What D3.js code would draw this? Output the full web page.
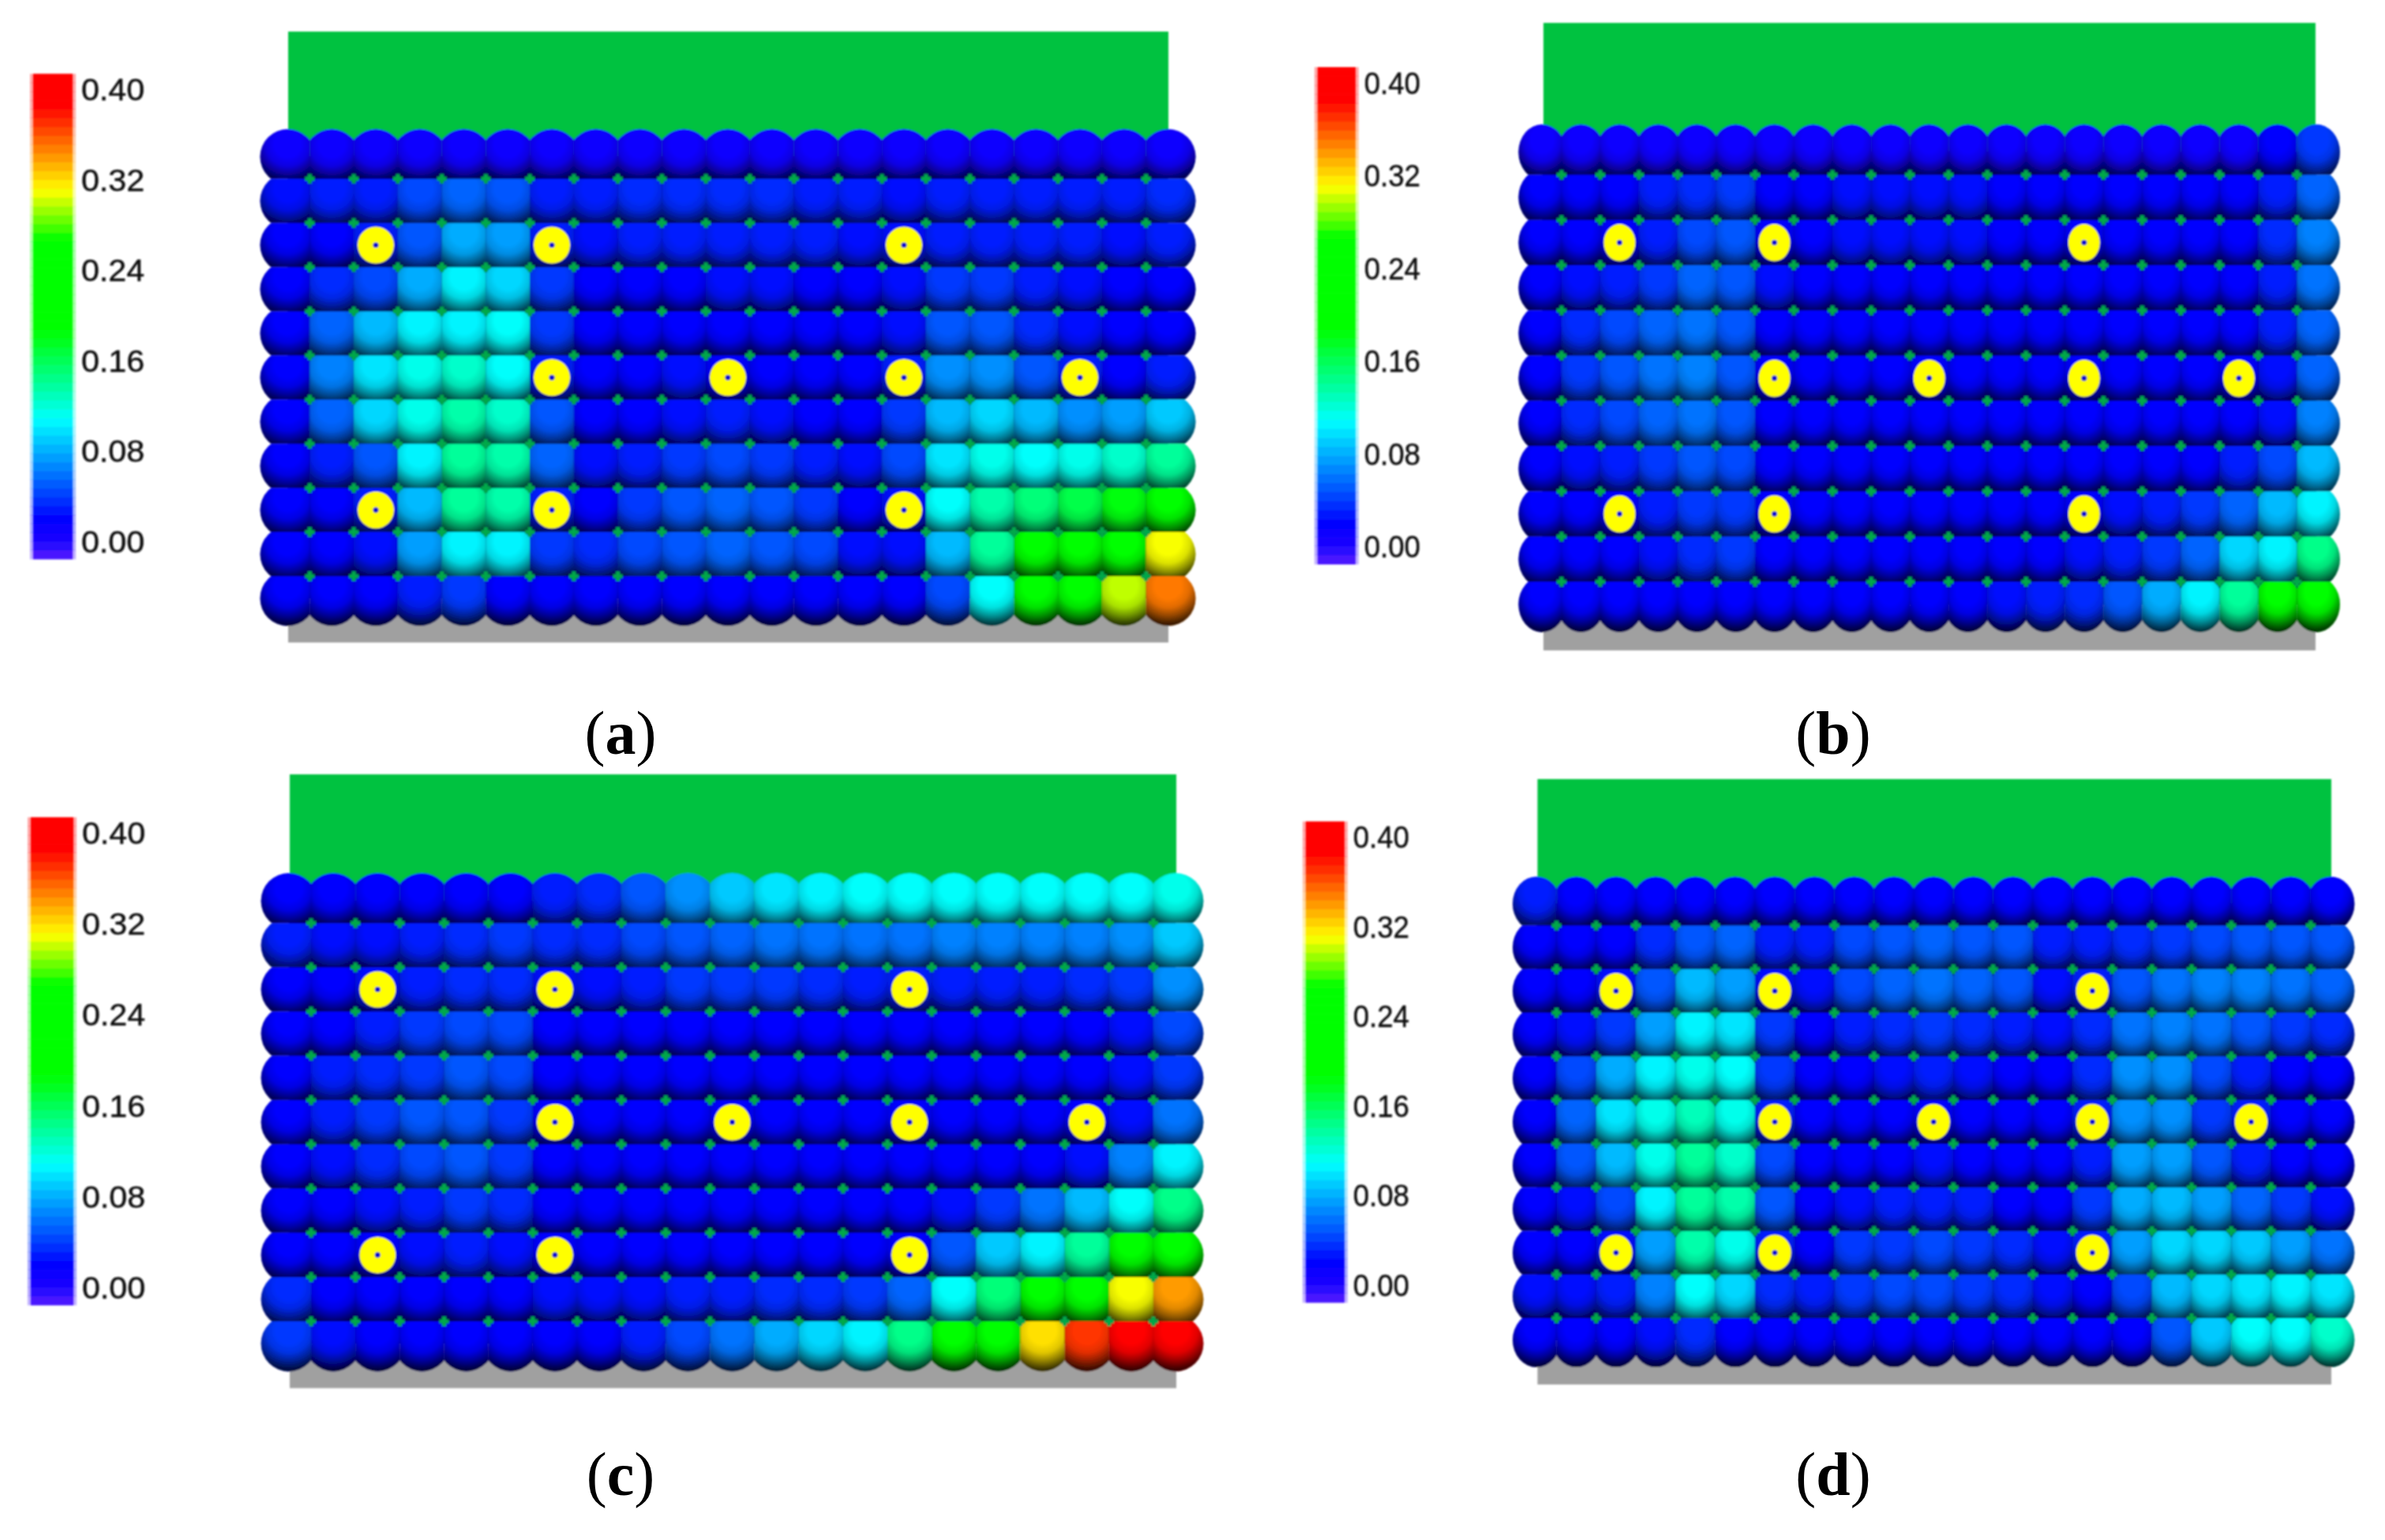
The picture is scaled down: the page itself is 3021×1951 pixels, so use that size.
<!DOCTYPE html>
<html>
<head>
<meta charset="utf-8">
<script src="https://cdn.jsdelivr.net/npm/d3@7"></script>
<style>
  html, body { margin: 0; background: #fff; }
  svg { display: block; }
</style>
</head>
<body>
<div id="graph"></div>
<script>
// values, one row of 21 balls per line, top row first
const panelA = [
  [.01,.01,.01,.01,.01,.01,.01,.01,.01,.01,.01,.01,.01,.01,.01,.01,.01,.01,.01,.01,.01],
  [.025,.03,.03,.045,.055,.05,.03,.03,.035,.035,.035,.035,.03,.03,.025,.03,.03,.03,.03,.03,.035],
  [.02,.02,.03,.05,.08,.075,.03,.025,.03,.03,.03,.03,.03,.025,.025,.03,.03,.03,.03,.025,.03],
  [.02,.035,.045,.08,.105,.095,.04,.02,.02,.02,.025,.025,.02,.02,.025,.04,.04,.03,.025,.02,.02],
  [.02,.055,.085,.105,.105,.11,.04,.02,.02,.02,.02,.02,.02,.02,.025,.05,.05,.035,.025,.02,.02],
  [.02,.065,.10,.115,.125,.11,.03,.02,.02,.025,.02,.02,.02,.02,.03,.07,.07,.05,.03,.02,.03],
  [.02,.055,.095,.115,.135,.125,.05,.02,.02,.025,.03,.025,.02,.02,.04,.085,.095,.085,.07,.075,.09],
  [.02,.03,.05,.105,.14,.135,.055,.025,.03,.04,.045,.04,.03,.025,.045,.10,.115,.11,.115,.125,.14],
  [.02,.02,.03,.085,.14,.135,.03,.02,.04,.05,.055,.05,.04,.02,.025,.11,.135,.15,.165,.185,.19],
  [.02,.02,.025,.075,.105,.105,.04,.035,.045,.05,.055,.05,.045,.025,.025,.085,.14,.20,.20,.22,.31],
  [.015,.02,.02,.03,.04,.02,.02,.015,.015,.015,.015,.015,.015,.015,.02,.045,.11,.20,.20,.30,.35]
];
const panelB = [
  [.01,.01,.01,.01,.01,.01,.01,.01,.01,.01,.01,.01,.01,.01,.01,.01,.01,.01,.01,.015,.04],
  [.02,.02,.02,.03,.035,.04,.02,.02,.025,.025,.025,.025,.02,.02,.02,.02,.02,.02,.02,.03,.055],
  [.02,.02,.02,.03,.045,.05,.02,.02,.025,.025,.025,.025,.02,.02,.02,.02,.02,.02,.02,.035,.065],
  [.02,.025,.03,.04,.055,.05,.025,.02,.02,.02,.02,.02,.02,.02,.02,.02,.02,.02,.02,.03,.06],
  [.02,.035,.045,.055,.06,.05,.02,.02,.02,.02,.02,.02,.02,.02,.02,.02,.02,.02,.02,.03,.055],
  [.02,.04,.05,.06,.065,.05,.02,.02,.02,.02,.02,.02,.02,.02,.02,.02,.02,.02,.02,.025,.055],
  [.02,.035,.045,.055,.06,.05,.02,.02,.02,.02,.02,.02,.02,.02,.02,.02,.02,.02,.02,.025,.065],
  [.02,.025,.03,.04,.05,.045,.02,.02,.02,.02,.02,.02,.02,.02,.02,.02,.02,.02,.03,.045,.085],
  [.02,.02,.02,.03,.04,.04,.02,.02,.02,.02,.02,.02,.02,.02,.02,.025,.03,.04,.055,.085,.105],
  [.02,.02,.02,.025,.035,.04,.02,.02,.02,.02,.02,.02,.02,.02,.025,.03,.04,.055,.095,.105,.145],
  [.02,.02,.02,.02,.02,.02,.02,.02,.02,.02,.02,.02,.025,.03,.035,.05,.08,.105,.14,.19,.19]
];
const panelC = [
  [.015,.015,.015,.015,.015,.02,.03,.035,.05,.07,.09,.10,.105,.11,.11,.11,.11,.11,.11,.11,.115],
  [.03,.025,.025,.03,.035,.04,.035,.035,.045,.05,.055,.06,.06,.06,.06,.065,.065,.065,.065,.07,.09],
  [.02,.02,.025,.03,.035,.035,.025,.025,.03,.04,.04,.04,.035,.03,.03,.03,.03,.03,.035,.04,.07],
  [.02,.02,.03,.04,.045,.045,.02,.02,.02,.02,.02,.02,.02,.02,.02,.02,.02,.02,.02,.025,.045],
  [.02,.03,.035,.04,.05,.045,.02,.02,.02,.02,.02,.02,.02,.02,.02,.02,.02,.02,.02,.025,.04],
  [.02,.03,.04,.05,.05,.04,.02,.02,.02,.02,.02,.02,.02,.02,.02,.02,.02,.02,.02,.025,.06],
  [.02,.025,.035,.045,.05,.04,.02,.02,.02,.02,.02,.02,.02,.02,.02,.02,.02,.02,.025,.065,.105],
  [.02,.02,.025,.03,.04,.035,.02,.02,.02,.02,.02,.02,.02,.02,.02,.025,.04,.06,.085,.11,.145],
  [.02,.02,.02,.025,.03,.025,.02,.02,.02,.02,.02,.02,.02,.02,.02,.05,.09,.105,.14,.19,.19],
  [.035,.02,.02,.02,.02,.02,.025,.025,.025,.03,.03,.035,.035,.04,.055,.11,.15,.19,.20,.31,.34],
  [.04,.025,.02,.015,.015,.015,.015,.02,.03,.045,.06,.08,.095,.105,.145,.20,.20,.32,.37,.395,.40]
];
const panelD = [
  [.03,.015,.015,.015,.015,.015,.015,.015,.015,.015,.015,.015,.015,.015,.015,.015,.015,.015,.015,.015,.015],
  [.02,.02,.02,.035,.05,.055,.03,.03,.045,.05,.055,.05,.05,.03,.03,.035,.04,.045,.05,.05,.05],
  [.02,.02,.025,.05,.085,.075,.025,.025,.045,.055,.06,.055,.05,.025,.03,.05,.06,.065,.065,.06,.055],
  [.02,.025,.04,.075,.105,.10,.04,.02,.03,.035,.04,.035,.03,.025,.035,.06,.065,.06,.05,.04,.035],
  [.02,.045,.08,.105,.115,.11,.04,.02,.02,.025,.03,.025,.02,.02,.035,.07,.07,.045,.03,.02,.02],
  [.02,.055,.10,.115,.13,.115,.03,.02,.02,.02,.02,.02,.02,.02,.03,.07,.07,.04,.03,.02,.02],
  [.02,.05,.085,.115,.14,.125,.045,.02,.02,.02,.025,.02,.02,.02,.03,.075,.075,.05,.03,.02,.02],
  [.02,.025,.045,.105,.14,.135,.05,.02,.025,.03,.03,.03,.02,.02,.04,.08,.085,.075,.055,.04,.025],
  [.02,.02,.025,.075,.135,.115,.03,.02,.04,.04,.045,.04,.035,.025,.03,.075,.095,.095,.09,.075,.06],
  [.025,.025,.03,.065,.11,.095,.035,.03,.04,.045,.045,.04,.035,.025,.02,.045,.085,.095,.10,.105,.10],
  [.02,.02,.02,.025,.035,.02,.02,.02,.02,.02,.02,.02,.02,.02,.02,.02,.05,.09,.11,.11,.125]
];

const captions = ["(", "a", "b", "c", "d", ")"];
const legendTicks = [0, .08, .16, .24, .32, .40];
// [row, column] of the yellow discs, same in all four panels
const discCells = [[2,2],[2,6],[2,14],[5,6],[5,10],[5,14],[5,18],[8,2],[8,6],[8,14]];

// colour bar stops
const colorStops = [-.015, .003, .02, .109, .187, .267, .311, .385, .415];
const colorNames = ["#5a20ff", "#1400ff", "#0000ff", "#00ffff", "#00ff00", "#00ff00", "#ffff00", "#ff0000", "#ff0000"];

const panels = [
  {values: panelA, label: captions[1], capX: 786, capY: 955,
   x0: 364.5, x20: 1479.5, y0: 198.6, y10: 758, rx: 35, ry: 35, dx: 23, dy: 23.3,
   wall: [365, 1480, 40, 814], bar: [42, 92, 114, 687], textW: 80},
  {values: panelB, label: captions[2], capX: 2322, capY: 955,
   x0: 1953.4, x20: 2934, y0: 192.8, y10: 765.6, rx: 30, ry: 35.3, dx: 20, dy: 23.5,
   wall: [1955, 2933, 29, 824], bar: [1669, 1717, 106, 693], textW: 71},
  {values: panelC, label: captions[3], capX: 786, capY: 1894,
   x0: 366, x20: 1489, y0: 1141.4, y10: 1702, rx: 35.4, ry: 35.4, dx: 23, dy: 23,
   wall: [367, 1490, 981, 1758.6], bar: [39, 93, 1056, 1632], textW: 80},
  {values: panelD, label: captions[4], capX: 2322, capY: 1894,
   x0: 1946.4, x20: 2952, y0: 1144.9, y10: 1697.6, rx: 30.4, ry: 34.5, dx: 20.7, dy: 22.7,
   wall: [1947.5, 2953, 987, 1754], bar: [1654, 1703, 1061, 1629], textW: 71}
];

const svg = d3.select("#graph")
  .append("svg")
    .attr("width", 3021)
    .attr("height", 1951);

const defs = svg.append("defs");

const color = d3.scaleLinear()
  .domain(colorStops)
  .range(colorNames)
  .clamp(true);

// shading laid over each ball, light comes from above
const shade = defs.append("radialGradient")
    .attr("id", "shade")
    .attr("cx", .5).attr("cy", .27).attr("r", .8);
[[0, 0], [.3, 0], [.5, .12], [.68, .42], [.85, .74], [1, .92]].forEach(s => {
  shade.append("stop")
    .attr("offset", s[0])
    .attr("stop-color", "#000008")
    .attr("stop-opacity", s[1]);
});

defs.append("filter")
    .attr("id", "soft")
    .attr("x", "-5%").attr("y", "-5%").attr("width", "110%").attr("height", "110%")
  .append("feGaussianBlur")
    .attr("stdDeviation", .9);

panels.forEach((p, pi) => {
  const x = d3.scaleLinear().domain([0, 20]).range([p.x0, p.x20]);
  const y = d3.scaleLinear().domain([0, 10]).range([p.y0, p.y10]);
  const halfX = (x(1) - x(0)) / 2;
  const halfY = (y(1) - y(0)) / 2;

  const g = svg.append("g").attr("filter", "url(#soft)");

  // green block above the balls, grey base below
  g.append("rect")
    .attr("x", p.wall[0]).attr("width", p.wall[1] - p.wall[0])
    .attr("y", p.wall[2]).attr("height", y(0) - p.wall[2])
    .attr("fill", "#00c240");
  g.append("rect")
    .attr("x", p.wall[0]).attr("width", p.wall[1] - p.wall[0])
    .attr("y", y(10)).attr("height", p.wall[3] - y(10))
    .attr("fill", "#a0a0a0");
  g.append("rect")
    .attr("x", x(0)).attr("width", x(20) - x(0))
    .attr("y", y(0)).attr("height", y(10) - y(0))
    .attr("fill", "#000048");

  const cells = p.values.flatMap((row, r) => row.map((v, c) => ({r, c, v})));

  defs.selectAll(null)
    .data(cells)
    .join("clipPath")
      .attr("id", d => `clip-${pi}-${d.r}-${d.c}`)
    .append("rect")
      .attr("x", d => d.c == 0 ? x(d.c) - p.rx - 2 : x(d.c) - halfX)
      .attr("width", d => (d.c == 0 || d.c == 20 ? p.rx + 2 : halfX) + halfX)
      .attr("y", d => d.r == 0 ? y(d.r) - p.ry - 2 : y(d.r) - halfY)
      .attr("height", d => (d.r == 0 || d.r == 10 ? p.ry + 2 : halfY) + halfY);

  const balls = g.selectAll(null)
    .data(cells)
    .join("g")
      .attr("clip-path", d => `url(#clip-${pi}-${d.r}-${d.c})`);

  balls.append("ellipse")
    .attr("cx", d => x(d.c)).attr("cy", d => y(d.r))
    .attr("rx", p.rx).attr("ry", p.ry)
    .attr("fill", d => color(d.v));
  balls.append("ellipse")
    .attr("cx", d => x(d.c)).attr("cy", d => y(d.r))
    .attr("rx", p.rx).attr("ry", p.ry)
    .attr("fill", "url(#shade)");

  // small green crosses where four balls meet
  const joints = d3.cross(d3.range(10), d3.range(20));
  g.selectAll(null)
    .data(joints)
    .join("path")
      .attr("transform", d => `translate(${x(d[1] + .5)}, ${y(d[0] + .5)})`)
      .attr("d", "M-6,-2.5H-2.5V-6H2.5V-2.5H6V2.5H2.5V6H-2.5V2.5H-6Z")
      .attr("fill", "#00a848");

  // yellow discs with the blue dot in the middle
  g.selectAll(null)
    .data(discCells)
    .join("ellipse")
      .attr("cx", d => x(d[1])).attr("cy", d => y(d[0]))
      .attr("rx", p.dx).attr("ry", p.dy)
      .attr("fill", "#ffff00");
  g.selectAll(null)
    .data(discCells)
    .join("circle")
      .attr("cx", d => x(d[1])).attr("cy", d => y(d[0]))
      .attr("r", 3.6)
      .attr("fill", "#1010d0");

  // colour bar, banded like the original
  const ly = d3.scaleLinear().domain([0, .4]).range([p.bar[3], p.bar[2]]);
  const bandEdges = d3.range(-.0147, .4069, .0078);
  const bar = svg.append("g").attr("filter", "url(#soft)");
  bar.selectAll(null)
    .data(bandEdges)
    .join("rect")
      .attr("x", p.bar[0] - 4).attr("width", p.bar[1] - p.bar[0] + 8)
      .attr("y", d => ly(d + .0078)).attr("height", d => ly(d) - ly(d + .0078) + .5)
      .attr("fill", d => color(d + .0039))
      .attr("opacity", .35);
  bar.selectAll(null)
    .data(bandEdges)
    .join("rect")
      .attr("x", p.bar[0]).attr("width", p.bar[1] - p.bar[0])
      .attr("y", d => ly(d + .0078)).attr("height", d => ly(d) - ly(d + .0078) + .5)
      .attr("fill", d => color(d + .0039));

  const axis = svg.append("g")
    .attr("transform", `translate(${p.bar[1] + 11}, 0)`)
    .attr("filter", "url(#soft)")
    .call(d3.axisRight(ly)
      .tickValues(legendTicks)
      .tickFormat(d3.format(".2f"))
      .tickSize(0)
      .tickPadding(0));
  axis.select(".domain").remove();
  axis.selectAll("text")
    .attr("font-family", "'Liberation Sans', Arial, sans-serif")
    .attr("font-size", 39)
    .attr("fill", "#111")
    .attr("stroke", "#111")
    .attr("stroke-width", .5)
    .attr("textLength", p.textW)
    .attr("lengthAdjust", "spacingAndGlyphs");

  // caption with a bold letter
  const cap = svg.append("text")
    .attr("x", p.capX).attr("y", p.capY)
    .attr("text-anchor", "middle")
    .attr("font-family", "'Liberation Serif', 'Times New Roman', serif")
    .attr("font-size", 78)
    .attr("fill", "#000");
  cap.append("tspan").text(captions[0]);
  cap.append("tspan").attr("font-weight", "bold").text(p.label);
  cap.append("tspan").text(captions[5]);
});
</script>
</body>
</html>
